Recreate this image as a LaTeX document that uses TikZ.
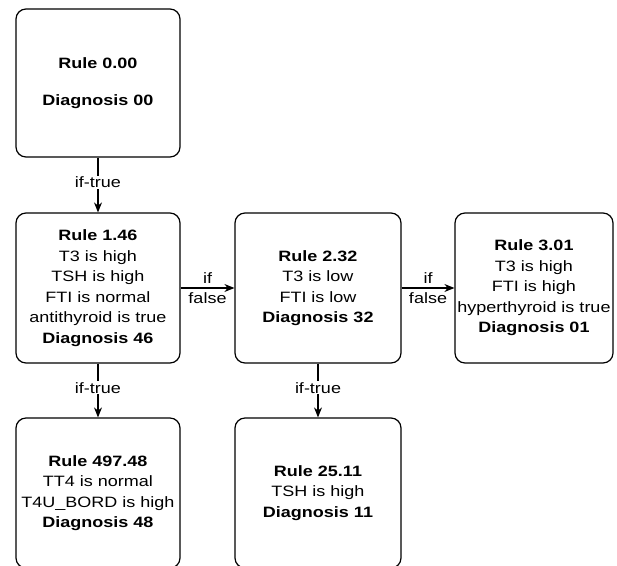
\documentclass[tikz,border=0pt]{standalone}
\usepackage{fontspec}
\setmainfont{Liberation Sans}[FakeStretch=1.2]
\usetikzlibrary{arrows.meta}
\usetikzlibrary{positioning}

\begin{document}
\begin{tikzpicture}[x=1pt,y=-1pt]
        \tikzset{rulebox/.style={draw, rounded corners=10pt, line width=1.2pt,
                        minimum width=164pt, minimum height=150pt, inner xsep=1pt,
                        align=center, font=\fontsize{15}{20.5}\selectfont},
                edgetext/.style={align=center, inner sep=1pt,
                        font=\fontsize{15}{20}\selectfont},
                >={Stealth[black, length=10pt, width=8pt]},
                every edge/.style={draw=black, line width=1.2pt}}

        \useasboundingbox (0,0) rectangle (617,565);
        \clip (0,0) rectangle (617,565);

        \node[rulebox, minimum height=148pt] (1) at (98, 83) {\textbf{Rule 0.00}\\[17pt]\textbf{Diagnosis 00}};
        \node[rulebox] (2) at (98, 288) {\textbf{Rule 1.46}\\T3 is high\\TSH is high\\FTI is normal\\antithyroid is true\\\textbf{Diagnosis 46}};
        \node[rulebox, minimum width=166pt] (3) at (318, 288) {\textbf{Rule 2.32}\\T3 is low\\FTI is low\\\textbf{Diagnosis 32}};
        \node[rulebox, minimum width=158pt] (4) at (534, 288) {\textbf{Rule 3.01}\\T3 is high\\FTI is high\\hyperthyroid is true\\\textbf{Diagnosis 01}};
        \node[rulebox] (5) at (98, 493) {\textbf{Rule 497.48}\\TT4 is normal\\T4U\_BORD is high\\\textbf{Diagnosis 48}};
        \node[rulebox, minimum width=166pt] (6) at (318, 493) {\textbf{Rule 25.11}\\TSH is high\\\textbf{Diagnosis 11}};

        \path [->] (1) edge node[edgetext, fill=white, pos=0.45] {if-true} (2);
        \path [->] (2) edge node[edgetext] {if\\false} (3);
        \path [->] (3) edge node[edgetext] {if\\false} (4);
        \path [->] (2) edge node[edgetext, fill=white, pos=0.45] {if-true} (5);
        \path [->] (3) edge node[edgetext, fill=white, pos=0.45] {if-true} (6);

    \end{tikzpicture}
\end{document}
